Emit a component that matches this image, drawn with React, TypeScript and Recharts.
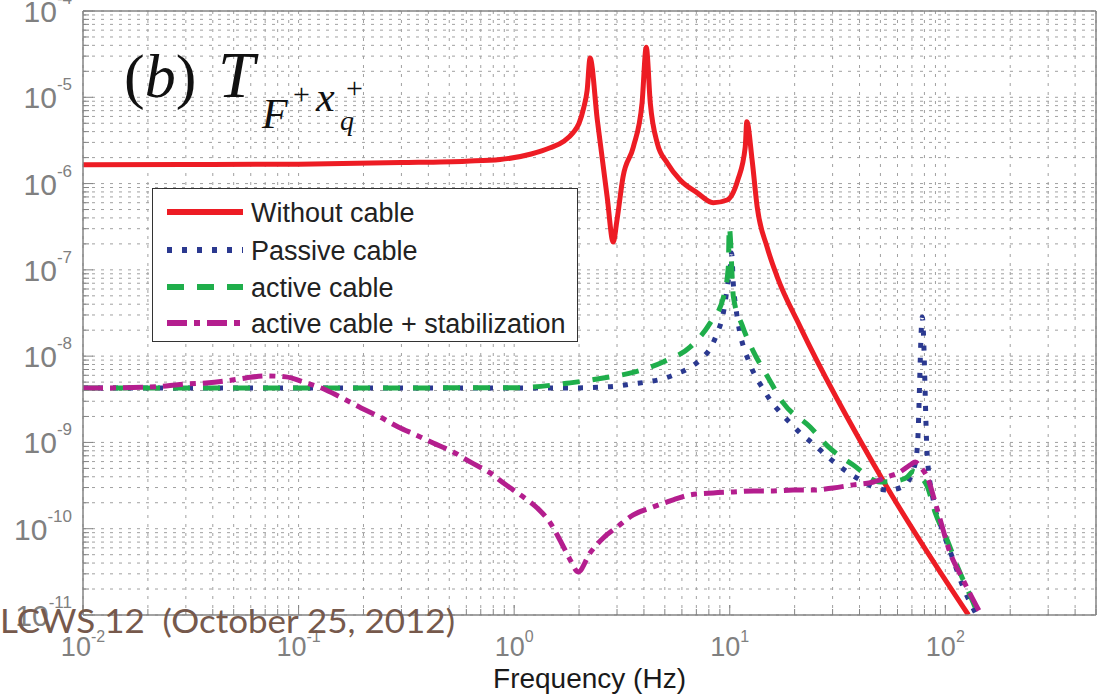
import React from "react";
import {
  LineChart,
  Line,
  XAxis,
  YAxis,
  CartesianGrid,
  Legend,
  ReferenceLine,
} from "recharts";

// axis decades + minor multipliers (log-log Bode-style plot)
const X_DECADES = [0.01, 0.1, 1, 10, 100];
const Y_DECADES = [1e-11, 1e-10, 1e-9, 1e-8, 1e-7, 1e-6, 1e-5];
const MINOR = [1, 2, 3, 4, 5, 6, 7, 8, 9];
const X_MAX = 500;
const Y_MAX = 1e-4;

const X_TICKS = X_DECADES.flatMap((d) => MINOR.map((m) => +(m * d).toPrecision(3))).filter(
  (v) => v <= X_MAX
);
const Y_TICKS = [...Y_DECADES.flatMap((d) => MINOR.map((m) => +(m * d).toPrecision(3))), Y_MAX];

// Without cable (red, solid)
const FREQ_WITHOUT = [
  0.01, 0.03, 0.1, 0.3, 0.6, 0.86, 1.2, 1.47, 1.7, 1.88, 2.0, 2.1, 2.18, 2.25, 2.43, 2.7,
  2.88, 3.0, 3.2, 3.57, 3.92, 4.1, 4.28, 4.61, 5.13, 5.89, 7.07, 8.38, 9.73, 10.9, 11.8, 12.0,
  12.7, 13.4, 14.9, 16.6, 21.2, 51.5, 128,
];
const MAG_WITHOUT = [
  1.65e-6, 1.66e-6, 1.68e-6, 1.75e-6, 1.82e-6, 1.9e-6, 2.2e-6, 2.6e-6, 3.1e-6, 3.9e-6, 5.0e-6,
  7.5e-6, 1.2e-5, 2.85e-5, 5.5e-6, 7e-7, 2.1e-7, 3.8e-7, 1.2e-6, 2.65e-6, 8.6e-6, 3.8e-5,
  8.6e-6, 2.95e-6, 1.73e-6, 1.1e-6, 7.8e-7, 6.0e-7, 6.45e-7, 1.1e-6, 2.65e-6, 5.2e-6, 1.87e-6,
  5.4e-7, 1.84e-7, 8.3e-8, 2.2e-8, 3.6e-10, 1e-11,
];

// Passive cable (blue, dotted)
const FREQ_PASSIVE = [
  0.01, 0.1, 1, 1.82, 2.55, 3.01, 3.53, 4.14, 4.86, 5.65, 6.49, 7.45, 8.2, 8.75, 9.23, 9.53,
  9.73, 10.05, 10.2, 10.4, 10.7, 11.1, 11.55, 12.2, 13.0, 14.2, 15.4, 17.1, 19.1, 21.2, 24.1,
  27.2, 30.9, 35.1, 40.3, 46.4, 54.4, 63.1, 71.1, 74.2, 78.2, 82.4, 87.9, 96.8, 108, 121, 138,
];
const MAG_PASSIVE = [
  4.28e-9, 4.28e-9, 4.28e-9, 4.28e-9, 4.37e-9, 4.5e-9, 4.76e-9, 5.02e-9, 5.44e-9, 6.22e-9,
  7.3e-9, 9.53e-9, 1.28e-8, 1.86e-8, 2.77e-8, 4.25e-8, 6.34e-8, 1.05e-7, 1.57e-7, 6.6e-8,
  3.5e-8, 1.96e-8, 1.31e-8, 9.0e-9, 6.2e-9, 4.28e-9, 3.1e-9, 2.25e-9, 1.68e-9, 1.29e-9,
  9.86e-10, 7.55e-10, 5.78e-10, 4.55e-10, 3.68e-10, 3.05e-10, 2.81e-10, 3.05e-10, 4.8e-10,
  8.9e-10, 2.85e-8, 7.2e-10, 2.16e-10, 9.7e-11, 4.6e-11, 2.1e-11, 1.06e-11,
];

// active cable (green, dashed)
const FREQ_ACTIVE = [
  0.01, 0.1, 1, 1.82, 2.59, 3.64, 4.91, 6.56, 8.12, 9.33, 9.85, 9.95, 10.4, 11.4, 12.9, 15.1,
  17.7, 23.6, 28.7, 37.4, 49.9, 60, 66.6, 71, 76.6, 82.4, 89.9, 102, 114, 133, 141,
];
const MAG_ACTIVE = [
  4.28e-9, 4.28e-9, 4.3e-9, 4.9e-9, 5.59e-9, 6.56e-9, 8.57e-9, 1.28e-8, 2.43e-8, 4.72e-8,
  1.08e-7, 3.14e-7, 4.85e-8, 2.3e-8, 1.12e-8, 5.59e-9, 2.87e-9, 1.51e-9, 8.87e-10, 5.48e-10,
  3.48e-10, 3.6e-10, 3.98e-10, 4.6e-10, 4.0e-10, 3.1e-10, 1.52e-10, 7.41e-11, 3.61e-11,
  1.5e-11, 1.06e-11,
];

// active cable + stabilization (magenta, dash-dot)
const FREQ_STAB = [
  0.01, 0.0124, 0.0196, 0.0243, 0.0301, 0.0372, 0.0461, 0.057, 0.0707, 0.0875, 0.105, 0.134,
  0.166, 0.195, 0.239, 0.29, 0.351, 0.421, 0.521, 0.625, 0.774, 0.889, 1.1, 1.28, 1.47, 1.63,
  1.82, 1.98, 2.25, 2.59, 3.01, 3.57, 4.42, 5.47, 6.56, 8.38, 10.4, 12.9, 15.9, 19.7, 24.4,
  30.2, 37.4, 46.4, 53.8, 60.5, 68.8, 72.6, 76.6, 82.4, 89.9, 96.8, 103, 121, 145,
];
const MAG_STAB = [
  4.28e-9, 4.28e-9, 4.37e-9, 4.52e-9, 4.76e-9, 4.89e-9, 5.16e-9, 5.59e-9, 5.9e-9, 5.75e-9,
  5.02e-9, 4.06e-9, 3.1e-9, 2.51e-9, 1.97e-9, 1.51e-9, 1.22e-9, 9.86e-10, 7.76e-10, 5.94e-10,
  4.43e-10, 3.4e-10, 2.34e-10, 1.74e-10, 1.17e-10, 7.41e-11, 4.35e-11, 3.16e-11, 5.25e-11,
  7.82e-11, 1.05e-10, 1.45e-10, 1.79e-10, 2.16e-10, 2.47e-10, 2.6e-10, 2.67e-10, 2.74e-10,
  2.74e-10, 2.81e-10, 2.81e-10, 2.97e-10, 3.22e-10, 3.48e-10, 3.98e-10, 4.43e-10, 5.48e-10,
  5.94e-10, 5.2e-10, 3.98e-10, 1.99e-10, 1.05e-10, 6.15e-11, 2.55e-11, 1.06e-11,
];

const toPoints = (freq: number[], mag: number[]) => freq.map((f, i) => ({ f, v: mag[i] }));

const SERIES = [
  { name: "Without cable", data: toPoints(FREQ_WITHOUT, MAG_WITHOUT), color: "#ed1c24", dash: undefined },
  { name: "Passive cable", data: toPoints(FREQ_PASSIVE, MAG_PASSIVE), color: "#2b3990", dash: "5 10" },
  { name: "active cable", data: toPoints(FREQ_ACTIVE, MAG_ACTIVE), color: "#1fae4b", dash: "17 13" },
  { name: "active cable + stabilization", data: toPoints(FREQ_STAB, MAG_STAB), color: "#b41e8e", dash: "20 7 6 7" },
];

const GRAY = "#848484";
const SANS = "'Liberation Sans', Arial, Helvetica, sans-serif";

const isDecade = (v: number) => {
  const e = Math.log10(v);
  return Math.abs(e - Math.round(e)) < 1e-6;
};

function XTick({ x, y, payload }: any) {
  const major = isDecade(payload.value);
  return (
    <g>
      <line x1={x} x2={x} y1={y} y2={y - (major ? 10 : 6)} stroke={GRAY} />
      {major && (
        <text x={x} y={y + 41} textAnchor="middle" fill="#808080" fontFamily={SANS}>
          <tspan fontSize={27}>10</tspan>
          <tspan fontSize={16} dy={-14}>{Math.round(Math.log10(payload.value))}</tspan>
        </text>
      )}
    </g>
  );
}

function YTick({ x, y, payload }: any) {
  const major = isDecade(payload.value);
  return (
    <g>
      <line x1={x} x2={x + (major ? 10 : 6)} y1={y} y2={y} stroke={GRAY} />
      {major && (
        <text x={x - 11} y={y + 11} textAnchor="end" fill="#808080" fontFamily={SANS}>
          <tspan fontSize={30}>10</tspan>
          <tspan fontSize={17} dy={-18}>{Math.round(Math.log10(payload.value))}</tspan>
        </text>
      )}
    </g>
  );
}

// legend keeps the plotting order of SERIES
function LegendBox() {
  const rows = [24, 62, 99, 135];
  return (
    <div style={{ width: 426, height: 154, border: "1.5px solid #333", background: "#fff", boxSizing: "border-box" }}>
      <svg width={423} height={151}>
        {SERIES.map((s, i) => (
          <g key={s.name}>
            <line x1={14} x2={90} y1={rows[i] - 1} y2={rows[i] - 1} stroke={s.color} strokeWidth={6} strokeDasharray={s.dash} />
            <text x={98} y={rows[i] + 9} fontSize={27} fontFamily={SANS} fill="#222">{s.name}</text>
          </g>
        ))}
      </svg>
    </div>
  );
}

export default function App() {
  return (
    <div style={{ position: "absolute", left: 0, top: 0, width: 1097, height: 696, background: "#fff", overflow: "hidden" }}>
      <LineChart width={1097} height={696} margin={{ top: 11, right: 1, bottom: 0, left: 0 }}>
        <CartesianGrid stroke="#a0a0a0" strokeDasharray="3 6" />
        <XAxis
          dataKey="f"
          type="number"
          scale="log"
          domain={[X_DECADES[0], X_MAX]}
          allowDataOverflow
          ticks={X_TICKS}
          interval={0}
          height={81}
          tickSize={0}
          tickMargin={0}
          tickLine={false}
          axisLine={{ stroke: GRAY, strokeWidth: 1.5 }}
          tick={<XTick />}
          label={{ value: "Frequency  (Hz)", position: "insideBottom", offset: 8, fontSize: 28, fill: "#1a1a1a", fontFamily: SANS, style: { whiteSpace: "pre" } }}
        />
        <YAxis
          type="number"
          scale="log"
          domain={[Y_DECADES[0], Y_MAX]}
          allowDataOverflow
          ticks={Y_TICKS}
          interval={0}
          width={83}
          tickSize={0}
          tickMargin={0}
          tickLine={false}
          axisLine={{ stroke: GRAY, strokeWidth: 1.5 }}
          tick={<YTick />}
        />
        <ReferenceLine y={Y_MAX} stroke={GRAY} strokeWidth={1.5} />
        <ReferenceLine x={X_MAX} stroke={GRAY} strokeWidth={1.5} />
        {SERIES.map((s) => (
          <Line
            key={s.name}
            data={s.data}
            dataKey="v"
            name={s.name}
            type="monotone"
            stroke={s.color}
            strokeWidth={5}
            strokeDasharray={s.dash}
            dot={false}
            activeDot={false}
            isAnimationActive={false}
          />
        ))}
        <Legend
          layout="horizontal"
          verticalAlign="middle"
          align="center"
          wrapperStyle={{ left: 152, top: 188, width: 426, height: 154 }}
          content={<LegendBox />}
        />
      </LineChart>
      <svg width={1097} height={696} style={{ position: "absolute", left: 0, top: 0, pointerEvents: "none" }}>
        <g fontFamily="'Liberation Serif', 'Times New Roman', serif" fill="#111">
          <text x={124} y={97} fontSize={62}>
            (<tspan fontStyle="italic">b</tspan>)
          </text>
          <text x={218} y={97} fontSize={66} fontStyle="italic">T</text>
          <text x={262} y={128} fontSize={42} fontStyle="italic">F</text>
          <text x={293} y={104} fontSize={30}>+</text>
          <text x={316} y={111} fontSize={42} fontStyle="italic">x</text>
          <text x={346} y={98} fontSize={30}>+</text>
          <text x={340} y={130} fontSize={28} fontStyle="italic">q</text>
        </g>
        <text
          x={0}
          y={633}
          fontSize={32}
          fill="#76594c"
          fontFamily="Lato, 'DejaVu Sans', sans-serif"
          textLength={455}
          lengthAdjust="spacingAndGlyphs"
          style={{ whiteSpace: "pre" }}
        >
          LCWS 12  (October 25, 2012)
        </text>
      </svg>
    </div>
  );
}
